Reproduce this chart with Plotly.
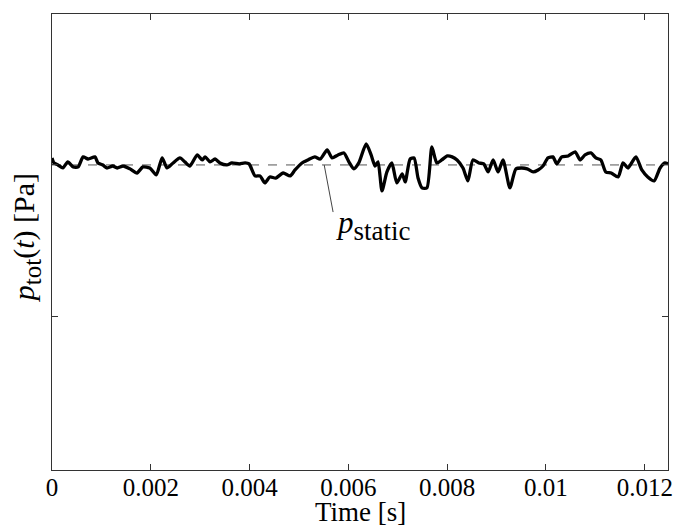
import plotly.graph_objects as go

# Time samples [s]
time_s = [0.0, 0.00004, 0.00012, 0.00022, 0.00032, 0.00043, 0.00053, 0.00063, 0.00073, 0.00087,
          0.00093, 0.00103, 0.00111, 0.00123, 0.00132, 0.00144, 0.00158, 0.00172, 0.00184, 0.00198,
          0.00211, 0.00223, 0.00233, 0.00245, 0.00259, 0.00269, 0.00279, 0.00294, 0.00304, 0.00310,
          0.00320, 0.00330, 0.00340, 0.00354, 0.00364, 0.00379, 0.00391, 0.00399, 0.00411, 0.00421,
          0.00431, 0.00441, 0.00453, 0.00468, 0.00482, 0.00492, 0.00506, 0.00518, 0.00532, 0.00543,
          0.00557, 0.00567, 0.00579, 0.00591, 0.00601, 0.00611, 0.00621, 0.00636, 0.00646, 0.00654,
          0.00660, 0.00668, 0.00678, 0.00688, 0.00698, 0.00709, 0.00715, 0.00725, 0.00733, 0.00741,
          0.00749, 0.00759, 0.00769, 0.00779, 0.00789, 0.00800, 0.00810, 0.00820, 0.00832, 0.00842,
          0.00852, 0.00864, 0.00874, 0.00883, 0.00893, 0.00903, 0.00913, 0.00927, 0.00939, 0.00951,
          0.00962, 0.00974, 0.00984, 0.00994, 0.01004, 0.01014, 0.01022, 0.01032, 0.01045, 0.01059,
          0.01069, 0.01079, 0.01091, 0.01101, 0.01111, 0.01121, 0.01132, 0.01146, 0.01156, 0.01166,
          0.01182, 0.01194, 0.01206, 0.01219, 0.01231, 0.01241, 0.01247]

# Total pressure (arbitrary units, no tick labels in the original)
p_tot = [2.046, 2.013, 2.000, 1.980, 2.020, 1.987, 1.987, 2.053, 2.039, 2.053,
         2.013, 2.000, 1.980, 1.993, 1.980, 1.993, 1.974, 1.947, 1.987, 1.980,
         1.934, 2.046, 1.980, 2.013, 2.046, 2.020, 1.993, 2.066, 2.033, 2.053,
         2.020, 2.039, 2.013, 2.000, 2.013, 2.007, 2.013, 2.007, 1.928, 1.928,
         1.882, 1.921, 1.914, 1.947, 1.928, 1.967, 2.013, 2.033, 2.053, 2.039,
         2.099, 2.046, 2.066, 2.079, 2.020, 1.974, 2.013, 2.138, 2.066, 1.993,
         2.020, 1.829, 1.954, 2.013, 1.882, 1.941, 1.888, 2.039, 2.046, 1.914,
         1.849, 1.849, 2.118, 2.013, 2.033, 2.059, 2.053, 2.033, 1.980, 1.895,
         2.033, 2.013, 2.007, 1.954, 2.033, 1.954, 2.033, 1.849, 1.974, 1.980,
         1.974, 1.954, 1.967, 1.993, 2.046, 2.053, 2.007, 2.053, 2.059, 2.086,
         2.033, 2.066, 2.079, 2.046, 2.033, 1.954, 1.947, 1.921, 2.013, 1.980,
         2.053, 1.967, 1.921, 1.895, 1.980, 2.013, 2.007]

p_static = 2.0
x_range = [0.0, 0.01247]
y_range = [-0.007, 2.993]
x_ticks = [0.0, 0.002, 0.004, 0.006, 0.008, 0.010, 0.012]
x_ticklabels = ["0", "0.002", "0.004", "0.006", "0.008", "0.01", "0.012"]
y_ticks = [1.0, 2.0]

# annotation pointer (data coords)
pointer_start = (0.00551, 2.0)
pointer_end = (0.00569, 1.69)
label_pos = (0.00570, 1.60)

FONT = "Liberation Serif, DejaVu Serif, serif"

fig = go.Figure()

fig.add_trace(go.Scatter(
    x=x_range, y=[p_static, p_static], mode="lines",
    line=dict(color="#555555", width=1, dash="dash"),
    hoverinfo="skip", showlegend=False))

fig.add_trace(go.Scatter(
    x=time_s, y=p_tot, mode="lines",
    line=dict(color="black", width=3.3, shape="spline", smoothing=0.6),
    showlegend=False))

fig.add_trace(go.Scatter(
    x=[pointer_start[0], pointer_end[0]], y=[pointer_start[1], pointer_end[1]],
    mode="lines", line=dict(color="#444444", width=1),
    hoverinfo="skip", showlegend=False))

fig.add_annotation(
    x=label_pos[0], y=label_pos[1], xref="x", yref="y",
    text="<i>p</i><sub><span style='font-size:27px'>static</span></sub>", showarrow=False,
    xanchor="left", yanchor="middle",
    font=dict(family=FONT, size=31, color="black"))

# axis titles as annotations for exact placement
fig.add_annotation(
    x=0.5, y=-0.092, xref="paper", yref="paper",
    text="Time [s]", showarrow=False, xanchor="center", yanchor="middle",
    font=dict(family=FONT, size=27, color="black"))

fig.add_annotation(
    x=-0.041, y=0.51, xref="paper", yref="paper",
    text="<i>p</i><sub><span style='font-size:25px'>tot</span></sub>(<i>t</i>) [Pa]",
    showarrow=False, textangle=-90, xanchor="center", yanchor="middle",
    font=dict(family=FONT, size=30, color="black"))

fig.update_layout(
    width=675, height=527,
    margin=dict(l=52, r=7, t=14, b=57),
    paper_bgcolor="white", plot_bgcolor="white",
    font=dict(family=FONT, size=24, color="black"),
)

fig.update_xaxes(
    range=x_range, tickvals=x_ticks, ticktext=x_ticklabels,
    ticks="inside", ticklen=6, tickcolor="#333333", tickwidth=1,
    showline=True, linecolor="#333333", linewidth=1, mirror="allticks",
    showgrid=False, zeroline=False, automargin=False,
    ticklabelstandoff=-5,
    tickfont=dict(family=FONT, size=25, color="black"),
)

fig.update_yaxes(
    range=y_range, tickvals=y_ticks, showticklabels=False,
    ticks="inside", ticklen=6, tickcolor="#333333", tickwidth=1,
    showline=True, linecolor="#333333", linewidth=1, mirror="allticks",
    showgrid=False, zeroline=False, automargin=False,
)

fig.write_html("out.html",
               config={"displayModeBar": False},
               post_script="document.body.style.margin='0';document.body.style.overflow='hidden';")
